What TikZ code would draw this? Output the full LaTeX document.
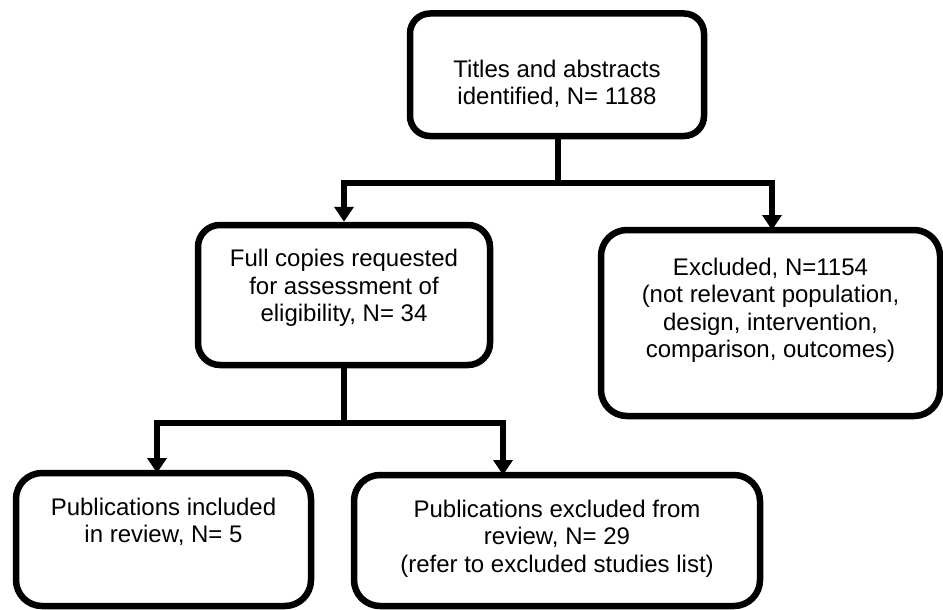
\documentclass[tikz,border=0pt]{standalone}
\usepackage{fontspec}
\setmainfont{Liberation Sans}
\usetikzlibrary{arrows.meta}
\tikzset{
  box/.style={draw=black, line width=6.5pt, fill=none, rectangle, inner sep=0pt},
  txt/.style={anchor=north, inner sep=0pt, align=center, font=\fontsize{24}{27.5}\selectfont},
  conn/.style={draw=black, line width=6pt, line join=miter},
  arr/.style={conn, -{Triangle[width=19pt,length=15pt]}}
}
\begin{document}
\begin{tikzpicture}[x=1pt, y=-1pt]
\useasboundingbox (0,0) rectangle (943,610);
% boxes
\node[box, rounded corners=20pt, minimum width=294pt, minimum height=122.5pt] (A) at (557,74.75) {};
\node[box, rounded corners=22pt, minimum width=292pt, minimum height=140pt] (B) at (344,295) {};
\node[box, rounded corners=26pt, minimum width=339pt, minimum height=186pt] (C) at (770.5,323) {};
\node[box, rounded corners=26pt, minimum width=295pt, minimum height=133pt] (D) at (163.5,539.5) {};
\node[box, rounded corners=26pt, minimum width=406pt, minimum height=131pt] (E) at (557,540.5) {};
% texts
\node[txt] (tA) at (557,59.7) {Titles and abstracts\\identified, N= 1188};
\node[txt] (tB) at (344,249.4) {Full copies requested\\for assessment of\\eligibility, N= 34};
\node[txt] (tC) at (770.5,257.7) {Excluded, N=1154\\(not relevant population,\\design, intervention,\\comparison, outcomes)};
\node[txt] (tD) at (163.5,497.7) {Publications included\\in review, N= 5};
\node[txt] (tE) at (557,499.7) {Publications excluded from\\review, N= 29\\(refer to excluded studies list)};
% junctions
\coordinate (j1) at (558,183);
\coordinate (j2) at (344,423);
\coordinate (cC) at (772,230);
\coordinate (cD) at (157,473);
\coordinate (cE) at (503,475);
% connectors
\draw[conn] ([xshift=1pt]A.south) -- (j1);
\draw[arr] (j1) -| (B.north);
\draw[arr] (j1) -| (cC);
\draw[conn] (B.south) -- (j2);
\draw[arr] (j2) -| (cD);
\draw[arr] (j2) -| (cE);
\end{tikzpicture}
\end{document}
